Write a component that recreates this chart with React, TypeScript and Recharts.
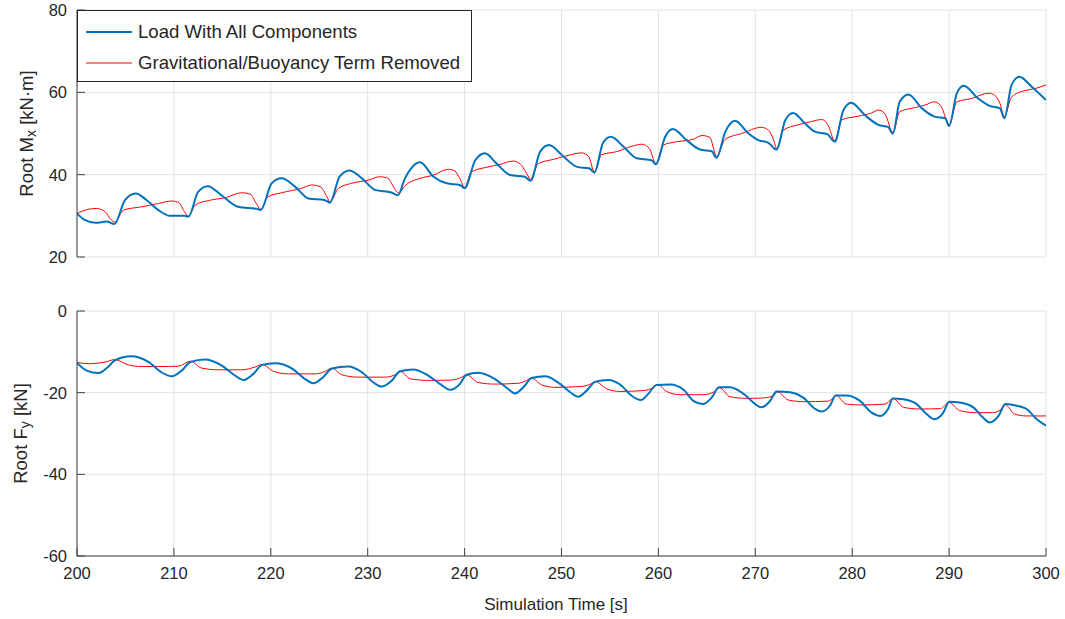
import React from 'react';
import { LineChart, Line, XAxis, YAxis, CartesianGrid, Legend, Label } from 'recharts';

const timeTicks = [200, 210, 220, 230, 240, 250, 260, 270, 280, 290, 300];
const mxTicks = [20, 40, 60, 80];
const fyTicks = [-60, -40, -20, 0];
const seriesNames = ['Load With All Components', 'Gravitational/Buoyancy Term Removed'];
const seriesColors = ['#0072BD', '#FF0000'];

// Root Mx [kN·m] — load with all components
const mxAll: [number, number][] = [
  [200, 30.6], [200.8, 29.0], [201.9, 28.3], [203.1, 28.6], [203.85, 28.0], [204.95, 33.8], [206.05, 35.4],
  [207.2, 33.8], [208.4, 31.4], [209.6, 30.0], [211.1, 30.0], [211.5, 29.8], [212.5, 35.8], [213.5, 37.2],
  [214.9, 35.0], [216.6, 32.2], [218.7, 31.6], [218.95, 31.4], [220.1, 37.9], [221.1, 39.1], [222.5, 37.1],
  [223.9, 34.2], [225.6, 33.8], [226.1, 33.2], [227.1, 39.5], [228.1, 41.0], [229.4, 39.1], [230.75, 36.3],
  [232.5, 35.6], [233.1, 35.0], [233.85, 39.1], [235.4, 43.0], [236.8, 39.5], [238.15, 37.9], [239.5, 37.5],
  [240.0, 36.7], [241.1, 43.5], [242.1, 45.2], [243.3, 42.7], [244.7, 39.9], [246.2, 39.5], [246.8, 38.5],
  [247.8, 45.6], [248.7, 47.2], [250.2, 44.4], [251.6, 41.9], [252.9, 41.5], [253.4, 40.5], [254.3, 47.8],
  [255.1, 49.2], [256.4, 46.8], [257.75, 44.0], [259.3, 43.5], [259.75, 42.5], [260.7, 49.2], [261.5, 51.1],
  [262.9, 48.4], [264.3, 46.1], [265.5, 45.7], [266.0, 44.1], [266.9, 50.4], [267.9, 53.1], [269.3, 50.0],
  [270.3, 48.4], [271.35, 47.75], [272.2, 46.1], [273.1, 53.3], [273.9, 55.0], [275.1, 52.5], [276.2, 50.4],
  [277.4, 49.9], [278.2, 48.0], [279.1, 55.7], [279.9, 57.5], [281.3, 54.5], [282.7, 52.1], [283.7, 51.6],
  [284.2, 50.0], [284.9, 57.7], [285.8, 59.5], [287.2, 56.1], [288.5, 54.1], [289.6, 53.7], [290.0, 51.8],
  [290.8, 59.8], [291.5, 61.6], [293.0, 58.5], [294.2, 56.7], [295.25, 56.1], [295.7, 53.7], [296.45, 61.8],
  [297.25, 63.8], [298.5, 61.4], [300, 58.1],
];

// Root Mx [kN·m] — gravitational/buoyancy term removed
const mxNoGrav: [number, number][] = [
  [200, 30.6], [201.2, 31.6], [202.0, 31.8], [202.9, 31.0], [203.5, 29.1], [203.9, 28.5], [204.8, 31.4],
  [206.7, 32.2], [208.4, 33.0], [209.8, 33.6], [210.5, 33.2], [211.1, 31.0], [211.5, 29.9], [212.2, 32.6],
  [213.55, 33.7], [215.3, 34.4], [217.0, 35.6], [217.85, 35.3], [218.5, 33.0], [218.95, 31.6], [219.7, 34.6],
  [221.1, 35.6], [223.2, 36.7], [224.2, 37.5], [225.1, 37.1], [225.8, 34.6], [226.1, 33.4], [227.0, 36.7],
  [228.35, 37.9], [230.1, 38.7], [231.3, 39.5], [232.1, 39.1], [232.75, 36.7], [233.2, 35.5], [233.85, 37.3],
  [235.4, 39.1], [236.8, 39.9], [238.3, 41.3], [239.0, 40.9], [239.5, 39.1], [240.0, 36.9], [240.7, 40.7],
  [242.3, 41.8], [243.65, 42.5], [245.0, 43.3], [245.7, 42.7], [246.4, 40.3], [246.8, 38.9], [247.6, 42.7],
  [249.15, 43.7], [250.9, 44.8], [252.1, 45.3], [252.8, 44.4], [253.4, 40.7], [254.1, 44.8], [255.7, 45.6],
  [257.4, 47.0], [258.3, 47.4], [259.05, 46.4], [259.75, 42.7], [260.5, 47.2], [261.9, 48.0], [263.6, 48.6],
  [264.5, 49.5], [265.3, 49.1], [266.0, 44.5], [266.9, 48.6], [268.6, 50.0], [270.65, 51.5], [271.35, 50.8],
  [271.9, 48.4], [272.2, 46.4], [272.9, 50.8], [274.4, 52.1], [275.8, 52.9], [276.85, 53.4], [277.5, 52.1],
  [278.2, 48.2], [278.9, 53.3], [280.6, 54.2], [282.0, 55.0], [282.7, 55.7], [283.4, 54.7], [284.2, 50.2],
  [284.9, 55.3], [286.5, 56.3], [287.5, 56.9], [288.5, 57.7], [289.2, 56.5], [290.0, 52.1], [290.8, 57.7],
  [292.3, 58.5], [294.1, 59.8], [294.7, 59.3], [295.25, 57.3], [295.7, 54.1], [296.45, 58.9], [297.8, 60.4],
  [299.0, 61.0], [300, 61.8],
];

// Root Fy [kN] — load with all components
const fyAll: [number, number][] = [
  [200, -12.7], [201.0, -14.6], [202.2, -15.2], [203.2, -13.7], [203.9, -12.1], [205.6, -11.1], [207.4, -12.5],
  [208.7, -15.0], [209.8, -16.0], [210.8, -14.6], [211.7, -12.5], [213.2, -11.9], [214.9, -13.3], [216.3, -15.8],
  [217.2, -16.9], [218.2, -15.4], [219.1, -13.2], [220.4, -12.8], [222.2, -14.1], [223.5, -16.6], [224.4, -17.7],
  [225.4, -16.2], [226.3, -14.1], [228.0, -13.6], [229.4, -15.0], [230.6, -17.5], [231.4, -18.5], [232.5, -17.0],
  [233.3, -14.8], [234.7, -14.3], [236.25, -15.8], [237.6, -18.1], [238.5, -19.3], [239.5, -17.9], [240.2, -15.6],
  [241.4, -15.1], [243.1, -16.6], [244.5, -19.1], [245.2, -20.2], [246.2, -18.3], [246.9, -16.4], [248.3, -16.0],
  [249.7, -17.6], [250.9, -19.9], [251.7, -21.0], [252.6, -19.5], [253.5, -17.3], [254.8, -16.9], [256.2, -18.3],
  [257.2, -20.7], [258.2, -21.8], [258.95, -20.3], [259.8, -18.1], [261.2, -18.0], [262.6, -19.3], [263.6, -22.0],
  [264.6, -22.8], [265.5, -21.2], [266.25, -18.7], [267.4, -18.7], [268.8, -20.3], [270.0, -22.8], [270.6, -23.6],
  [271.5, -22.1], [272.2, -19.7], [273.6, -19.9], [274.95, -21.2], [276.2, -24.0], [276.85, -24.6], [277.7, -23.2],
  [278.3, -20.7], [279.4, -20.7], [280.8, -22.0], [282.0, -24.9], [282.9, -25.7], [283.7, -24.0], [284.2, -21.4],
  [285.3, -21.6], [286.65, -22.8], [287.7, -25.3], [288.5, -26.5], [289.4, -24.9], [290.0, -22.2], [291.1, -22.4],
  [292.5, -23.6], [293.5, -26.1], [294.2, -27.3], [295.1, -25.7], [295.8, -22.8], [297.0, -23.2], [298.0, -24.0],
  [299.05, -26.5], [300, -28.1],
];

// Root Fy [kN] — gravitational/buoyancy term removed
const fyNoGrav: [number, number][] = [
  [200, -12.6], [201.2, -12.9], [202.9, -12.5], [203.9, -11.9], [205.3, -13.2], [206.7, -13.6], [208.4, -13.6],
  [210.5, -13.5], [211.7, -12.3], [212.9, -14.0], [214.6, -14.4], [217.0, -14.4], [218.4, -13.7], [219.1, -13.1],
  [220.3, -14.8], [221.8, -15.4], [224.6, -15.4], [225.6, -14.8], [226.3, -14.0], [227.3, -15.6], [229.0, -16.2],
  [231.8, -16.2], [233.0, -15.4], [233.3, -14.7], [234.4, -16.6], [236.25, -17.0], [238.7, -16.9], [239.7, -16.2],
  [240.2, -15.6], [241.4, -17.5], [243.1, -17.9], [245.5, -17.7], [246.4, -17.0], [246.9, -16.4], [247.95, -18.1],
  [249.3, -18.7], [251.9, -18.5], [252.9, -18.0], [253.5, -17.3], [254.7, -19.1], [256.0, -19.7], [258.4, -19.5],
  [259.5, -18.7], [259.9, -18.0], [260.85, -19.7], [262.2, -20.5], [264.6, -20.5], [265.8, -19.7], [266.3, -18.8],
  [267.4, -21.0], [269.1, -21.4], [270.8, -21.3], [271.9, -20.7], [272.3, -19.8], [273.4, -21.8], [275.0, -22.2],
  [277.4, -22.1], [277.9, -21.6], [278.3, -20.6], [279.4, -22.8], [280.8, -23.0], [283.4, -22.8], [284.2, -21.4],
  [285.3, -23.6], [287.0, -24.0], [289.1, -23.9], [290.0, -22.4], [291.1, -24.4], [292.8, -24.9], [294.5, -24.9],
  [295.4, -24.0], [295.8, -23.0], [296.8, -25.3], [298.0, -25.7], [300, -25.7],
];

const toPoints = (arr: [number, number][]) => arr.map(([t, v]) => ({ t, v }));

const FONT = '"Liberation Sans", Arial, Helvetica, sans-serif';
const TEXT = '#262626';
const AXIS = '#404040';
const GRID = '#e2e2e2';
const TICK_FONT = 16.5;
const LABEL_FONT = 18.5;

const blank = () => '';

const LegendBox = () => (
  <div
    style={{
      boxSizing: 'border-box',
      width: 395,
      height: 72,
      border: '1px solid #262626',
      background: '#fff',
      fontFamily: FONT,
      fontSize: 18.6,
      color: TEXT,
      position: 'relative',
    }}
  >
    {seriesNames.map((name, i) => (
      <div
        key={name}
        style={{
          position: 'absolute',
          left: 8,
          top: i === 0 ? 10 : 41,
          height: 22,
          display: 'flex',
          alignItems: 'center',
          whiteSpace: 'nowrap',
        }}
      >
        <svg width={46} height={4} style={{ marginRight: 6, display: 'block' }}>
          <line x1={0} y1={2} x2={46} y2={2} stroke={seriesColors[i]} strokeWidth={i === 0 ? 2 : 1} />
        </svg>
        <span>{name}</span>
      </div>
    ))}
  </div>
);

const YLabelMx = () => (
  <text
    x={26}
    y={133.5}
    transform="rotate(-90 26 133.5)"
    textAnchor="middle"
    dominantBaseline="central"
    fill={TEXT}
    fontSize={LABEL_FONT}
    fontFamily={FONT}
  >
    Root M<tspan dy={5} fontSize={14}>x</tspan>
    <tspan dy={-5}> [kN·m]</tspan>
  </text>
);

const YLabelFy = () => (
  <text
    x={20}
    y={133.5}
    transform="rotate(-90 20 133.5)"
    textAnchor="middle"
    dominantBaseline="central"
    fill={TEXT}
    fontSize={LABEL_FONT}
    fontFamily={FONT}
  >
    Root F<tspan dy={5} fontSize={14}>y</tspan>
    <tspan dy={-5}> [kN]</tspan>
  </text>
);

const XLabel = () => (
  <text x={556} y={304} textAnchor="middle" dominantBaseline="central" fill={TEXT} fontSize={17} fontFamily={FONT}>
    Simulation Time [s]
  </text>
);

export default function App() {
  const tickStyle = { fill: TEXT, fontSize: TICK_FONT, fontFamily: FONT };
  return (
    <div style={{ position: 'absolute', left: 0, top: 0, width: 1065, height: 619, background: '#fff' }}>
      <div style={{ position: 'absolute', left: 0, top: 0 }}>
        <LineChart width={1065} height={270} margin={{ top: 10, right: 19, bottom: 13, left: 17 }}>
          <CartesianGrid stroke={GRID} />
          <XAxis
            dataKey="t"
            type="number"
            domain={[200, 300]}
            ticks={timeTicks}
            interval={0}
            height={0}
            tickSize={-8}
            tickFormatter={blank}
            stroke={AXIS}
            allowDataOverflow
          />
          <XAxis
            xAxisId="top"
            orientation="top"
            type="number"
            domain={[200, 300]}
            ticks={timeTicks}
            interval={0}
            height={0}
            tickSize={-8}
            tickFormatter={blank}
            stroke={AXIS}
            allowDataOverflow
          />
          <YAxis
            type="number"
            domain={[20, 80]}
            ticks={mxTicks}
            interval={0}
            width={60}
            tickSize={-8}
            tickMargin={18}
            tick={tickStyle}
            stroke={AXIS}
            allowDataOverflow
          >
            <Label content={<YLabelMx />} />
          </YAxis>
          <YAxis
            yAxisId="r"
            orientation="right"
            type="number"
            domain={[20, 80]}
            ticks={mxTicks}
            interval={0}
            width={0}
            tickSize={-8}
            tickFormatter={blank}
            stroke={AXIS}
            allowDataOverflow
          />
          <Legend
            layout="vertical"
            align="center"
            verticalAlign="middle"
            width={395}
            height={72}
            wrapperStyle={{ left: 77, top: 10, width: 395, height: 72 }}
            content={() => <LegendBox />}
          />
          <Line
            data={toPoints(mxNoGrav)}
            dataKey="v"
            name={seriesNames[1]}
            type="monotone"
            stroke={seriesColors[1]}
            strokeWidth={1}
            dot={false}
            isAnimationActive={false}
          />
          <Line
            data={toPoints(mxAll)}
            dataKey="v"
            name={seriesNames[0]}
            type="monotone"
            stroke={seriesColors[0]}
            strokeWidth={2}
            dot={false}
            isAnimationActive={false}
          />
        </LineChart>
      </div>
      <div style={{ position: 'absolute', left: 0, top: 300 }}>
        <LineChart width={1065} height={319} margin={{ top: 11, right: 19, bottom: 0, left: 17 }}>
          <CartesianGrid stroke={GRID} />
          <XAxis
            dataKey="t"
            type="number"
            domain={[200, 300]}
            ticks={timeTicks}
            interval={0}
            height={63}
            tickSize={-8}
            tickMargin={19}
            tick={tickStyle}
            stroke={AXIS}
            allowDataOverflow
          >
            <Label content={<XLabel />} />
          </XAxis>
          <XAxis
            xAxisId="top"
            orientation="top"
            type="number"
            domain={[200, 300]}
            ticks={timeTicks}
            interval={0}
            height={0}
            tickSize={-8}
            tickFormatter={blank}
            stroke={AXIS}
            allowDataOverflow
          />
          <YAxis
            type="number"
            domain={[-60, 0]}
            ticks={fyTicks}
            interval={0}
            width={60}
            tickSize={-8}
            tickMargin={18}
            tick={tickStyle}
            stroke={AXIS}
            allowDataOverflow
          >
            <Label content={<YLabelFy />} />
          </YAxis>
          <YAxis
            yAxisId="r"
            orientation="right"
            type="number"
            domain={[-60, 0]}
            ticks={fyTicks}
            interval={0}
            width={0}
            tickSize={-8}
            tickFormatter={blank}
            stroke={AXIS}
            allowDataOverflow
          />
          <Line
            data={toPoints(fyNoGrav)}
            dataKey="v"
            name={seriesNames[1]}
            type="monotone"
            stroke={seriesColors[1]}
            strokeWidth={1}
            dot={false}
            isAnimationActive={false}
          />
          <Line
            data={toPoints(fyAll)}
            dataKey="v"
            name={seriesNames[0]}
            type="monotone"
            stroke={seriesColors[0]}
            strokeWidth={2}
            dot={false}
            isAnimationActive={false}
          />
        </LineChart>
      </div>
    </div>
  );
}
